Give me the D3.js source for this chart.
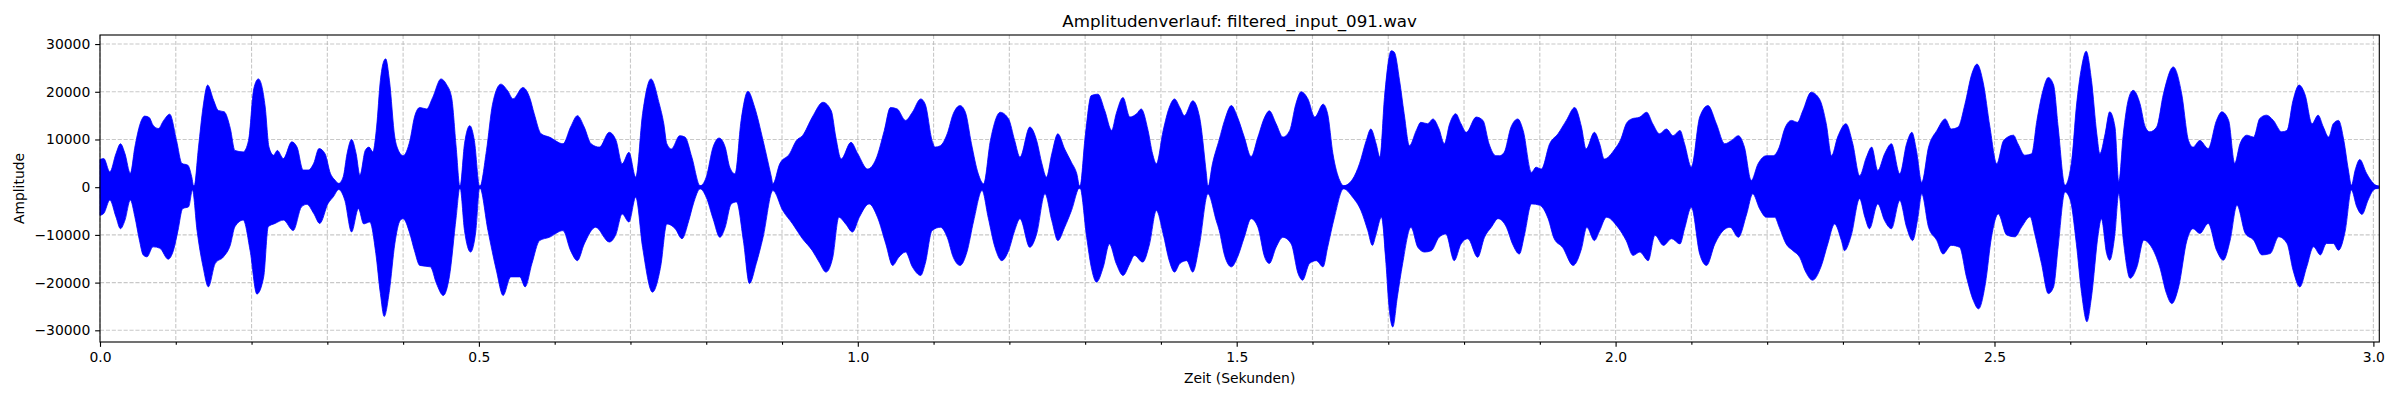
<!DOCTYPE html>
<html>
  <head>
    <meta charset="utf-8" />
    <title>Amplitudenverlauf</title>
    <script src="https://d3js.org/d3.v7.min.js"></script>
    <style>
      body {
        margin: 0;
        background: #ffffff;
        font-family: 'DejaVu Sans', sans-serif;
      }
      .tick text {
        font-family: 'DejaVu Sans', sans-serif;
        font-size: 13.9px;
        fill: #000;
      }
      .tick line {
        stroke: #000;
        stroke-width: 1.11px;
      }
      .grid line {
        stroke: #b0b0b0;
        stroke-opacity: 0.7;
        stroke-width: 1.11px;
        stroke-dasharray: 4.1 1.8;
      }
    </style>
  </head>
  <body>
    <div id="chart"></div>
    <script>
      // Hüllkurve des Signals: [Zeit in s, Amplitude]
      const upperEnvelope = [
        [0, 5800], [0.005, 6000], [0.013, 3200], [0.021, 7000], [0.027, 9100], [0.033, 7000],
        [0.04, 2900], [0.046, 8400], [0.053, 13300], [0.059, 14900], [0.065, 14600], [0.07, 13000],
        [0.077, 12300], [0.084, 14000], [0.092, 15300], [0.101, 9800], [0.108, 5000], [0.116, 4600],
        [0.121, 2200], [0.124, 0], [0.13, 8400], [0.136, 16800], [0.142, 21400], [0.15, 18200],
        [0.156, 16100], [0.164, 15800], [0.172, 12300], [0.178, 7700], [0.189, 7400], [0.196, 9800],
        [0.203, 20700], [0.209, 22700], [0.218, 16800], [0.223, 8400], [0.229, 6700], [0.234, 7700],
        [0.242, 6000], [0.253, 9500], [0.26, 8400], [0.268, 3600], [0.275, 3600], [0.282, 5000],
        [0.289, 8100], [0.297, 7000], [0.304, 2900], [0.31, 1500], [0.315, 800], [0.321, 2200],
        [0.326, 7000], [0.332, 10000], [0.338, 7000], [0.343, 2500], [0.35, 7700], [0.355, 8400],
        [0.36, 7400], [0.365, 12600], [0.37, 22400], [0.374, 26200], [0.377, 26900],
        [0.382, 22300], [0.389, 10500], [0.393, 8000], [0.4, 6600], [0.409, 9800], [0.415, 14700],
        [0.422, 16700], [0.431, 16400], [0.439, 18800], [0.45, 22700], [0.457, 21600], [0.464, 18800],
        [0.47, 8400], [0.475, 0], [0.481, 9100], [0.488, 12900], [0.494, 9800], [0.501, 0],
        [0.51, 7700], [0.518, 17400], [0.529, 21600], [0.538, 20200], [0.545, 18500], [0.558, 20900],
        [0.567, 18800], [0.573, 15400], [0.582, 11200], [0.593, 10500], [0.611, 9100], [0.621, 12600],
        [0.63, 15000], [0.639, 12600], [0.648, 9100], [0.659, 8400], [0.672, 11500], [0.681, 9800],
        [0.689, 4900], [0.698, 7300], [0.707, 2100], [0.716, 15400], [0.727, 22700], [0.738, 17500],
        [0.744, 13300], [0.748, 9100], [0.754, 8000], [0.765, 10800], [0.772, 10500], [0.781, 6300],
        [0.792, 300], [0.8, 2100], [0.809, 8400], [0.817, 10300], [0.825, 8400], [0.831, 4200],
        [0.838, 2800], [0.846, 14000], [0.855, 20100], [0.864, 16700], [0.875, 9800], [0.886, 2100],
        [0.888, 700], [0.897, 4900], [0.91, 7000], [0.919, 9800], [0.927, 10800], [0.94, 14700],
        [0.954, 17800], [0.965, 16000], [0.971, 10500], [0.978, 5900], [0.991, 9400], [1.0, 7000],
        [1.013, 3800], [1.024, 5900], [1.035, 11900], [1.043, 16700], [1.052, 16400], [1.063, 14000],
        [1.072, 15700], [1.083, 18500], [1.089, 17400], [1.098, 9800], [1.102, 8400],
        [1.109, 8700], [1.118, 11200], [1.126, 15400], [1.135, 17100], [1.142, 15700], [1.15, 9100],
        [1.159, 2800], [1.166, 700], [1.175, 9800], [1.188, 15700], [1.199, 14300], [1.207, 9800],
        [1.214, 6300], [1.227, 12600], [1.236, 9800], [1.243, 4900], [1.249, 2100], [1.256, 7000],
        [1.264, 11200], [1.273, 8000], [1.282, 5200], [1.289, 2800], [1.293, 0], [1.3, 10500],
        [1.308, 19200], [1.317, 19500], [1.326, 16000], [1.335, 11900], [1.341, 15400], [1.35, 18800],
        [1.359, 14700], [1.368, 15400], [1.374, 16400], [1.383, 11900], [1.389, 7000], [1.394, 4900],
        [1.403, 11900], [1.411, 16700], [1.418, 18500], [1.425, 16700], [1.431, 15000], [1.442, 18100],
        [1.451, 14700], [1.46, 2800], [1.462, 0], [1.468, 4900],
        [1.477, 10000], [1.484, 14000], [1.493, 17100], [1.501, 14700], [1.51, 10500], [1.519, 6400],
        [1.528, 10500], [1.537, 14700], [1.543, 16000], [1.552, 13300], [1.561, 10500], [1.57, 11900],
        [1.578, 17400], [1.585, 20000], [1.594, 18500], [1.603, 14700], [1.614, 17400], [1.62, 15400],
        [1.627, 7000], [1.636, 1400], [1.641, 300], [1.653, 1700], [1.662, 4900], [1.671, 9800],
        [1.677, 12200], [1.684, 9100], [1.689, 6300], [1.695, 18800], [1.704, 28600], [1.708, 28300],
        [1.715, 22300], [1.721, 15400], [1.728, 8700], [1.737, 11900], [1.743, 13600], [1.752, 13300],
        [1.759, 14300], [1.767, 12200], [1.774, 9100], [1.781, 13300], [1.789, 15400], [1.796, 13300],
        [1.803, 11500], [1.816, 14700], [1.825, 14000], [1.833, 9100], [1.842, 6600],
        [1.847, 6600], [1.853, 7300], [1.862, 12600], [1.871, 14300], [1.878, 11900], [1.889, 3100],
        [1.895, 4200], [1.902, 3800], [1.913, 9100], [1.924, 11200], [1.935, 14000], [1.946, 16700],
        [1.955, 12600], [1.961, 8000], [1.972, 11500], [1.979, 9100], [1.985, 5900], [1.999, 8000],
        [2.007, 10100], [2.014, 13300], [2.021, 14300], [2.032, 14700], [2.041, 15700], [2.049, 13300],
        [2.058, 11200], [2.067, 12200], [2.076, 10800], [2.085, 11900], [2.091, 9100], [2.1, 4200],
        [2.111, 14700], [2.122, 17100], [2.133, 13300], [2.144, 9100], [2.153, 9800], [2.162, 10800],
        [2.17, 8400], [2.179, 1400], [2.188, 4900], [2.199, 6600], [2.208, 6600],
        [2.216, 8400], [2.223, 12200], [2.232, 14000], [2.24, 13600], [2.247, 16000], [2.258, 19900],
        [2.269, 18500], [2.278, 13300], [2.285, 6600], [2.293, 10500], [2.304, 13300], [2.313, 9100],
        [2.322, 2400], [2.331, 6300], [2.338, 8400], [2.346, 3500], [2.355, 7000], [2.364, 9100],
        [2.375, 2800], [2.384, 9100], [2.391, 11500], [2.397, 7700], [2.404, 1000], [2.413, 8400],
        [2.424, 11900], [2.435, 14300], [2.443, 12200], [2.452, 12600], [2.461, 17400], [2.47, 23700],
        [2.477, 25800], [2.485, 22000], [2.494, 12600], [2.503, 4900],
        [2.512, 9800], [2.525, 10900], [2.531, 9100], [2.54, 6700], [2.549, 7000], [2.556, 14000],
        [2.564, 20300], [2.571, 23000], [2.578, 21400], [2.584, 12600], [2.593, 400], [2.602, 5700],
        [2.608, 16800], [2.615, 25200], [2.621, 28500], [2.628, 22400], [2.635, 11200], [2.639, 7000],
        [2.646, 11200], [2.652, 15800], [2.659, 12600], [2.664, 1100], [2.67, 11200], [2.677, 18600],
        [2.683, 20300], [2.692, 17500], [2.699, 12600], [2.705, 11600], [2.714, 12600], [2.723, 19600],
        [2.736, 25200], [2.747, 19600], [2.756, 9800], [2.762, 8400], [2.771, 9800], [2.782, 8100],
        [2.793, 14000], [2.8, 15800], [2.809, 14000], [2.817, 5000], [2.824, 9100], [2.833, 10900],
        [2.842, 10500], [2.85, 14400], [2.859, 15100], [2.868, 14000], [2.879, 11600], [2.886, 11900],
        [2.894, 18200], [2.902, 21400], [2.91, 19300], [2.919, 13300], [2.927, 15100], [2.934, 12600],
        [2.941, 10500], [2.947, 13300], [2.954, 14000], [2.961, 9800], [2.967, 3600], [2.971, 400],
        [2.976, 3600], [2.982, 5800], [2.991, 2900], [3.0, 800], [3.007, 100],
      ];

      const lowerEnvelope = [
        [0, -5900], [0.005, -5500], [0.013, -2700], [0.021, -6200], [0.027, -8700], [0.033, -6900],
        [0.04, -2700], [0.046, -6200], [0.052, -11100], [0.057, -14200], [0.062, -14600], [0.07, -12500],
        [0.079, -12800], [0.09, -15100], [0.097, -13200], [0.103, -9000], [0.109, -4500], [0.117, -4100],
        [0.122, -600], [0.128, -9000], [0.136, -16700], [0.143, -20900], [0.152, -16000], [0.163, -14600],
        [0.172, -12100], [0.178, -8300], [0.189, -6900], [0.198, -13200], [0.207, -22400], [0.216, -18800],
        [0.222, -8300], [0.231, -7600], [0.242, -6900], [0.255, -9100], [0.266, -4100], [0.273, -3600],
        [0.282, -5500], [0.29, -7600], [0.301, -3400], [0.308, -2000], [0.315, -500], [0.323, -2700],
        [0.332, -9400], [0.341, -4500], [0.348, -7700], [0.356, -7300], [0.364, -13900], [0.37, -22300],
        [0.375, -27100],
        [0.382, -21600], [0.389, -11900], [0.396, -7000], [0.4, -6600], [0.409, -9800], [0.415, -13300],
        [0.422, -16400], [0.436, -16700], [0.444, -20200], [0.453, -22700], [0.461, -18800], [0.47, -6300],
        [0.475, 0], [0.481, -9100], [0.489, -13600], [0.496, -9100], [0.501, 0], [0.512, -9100],
        [0.523, -17400], [0.532, -22700], [0.542, -18800], [0.554, -18800], [0.561, -20900], [0.57, -16000],
        [0.58, -11200], [0.593, -10500], [0.611, -9100], [0.621, -13300], [0.63, -15400], [0.639, -11900],
        [0.654, -8400], [0.672, -11500], [0.681, -9800], [0.689, -5600], [0.698, -7300], [0.707, -2100],
        [0.716, -12600], [0.729, -22000], [0.74, -16500],
        [0.748, -7700], [0.759, -8700], [0.768, -10800], [0.777, -7000], [0.783, -3500], [0.792, -350],
        [0.8, -2100], [0.809, -6600], [0.818, -10500], [0.825, -8400], [0.833, -3500], [0.84, -3100],
        [0.849, -11200], [0.857, -20200], [0.866, -16000], [0.875, -10500], [0.888, -700], [0.901, -4900],
        [0.914, -7700], [0.927, -10800], [0.94, -13300], [0.949, -15700], [0.958, -17800], [0.967, -14700],
        [0.975, -6300], [0.984, -7700], [0.993, -9400], [1.002, -6300], [1.015, -3500], [1.026, -6300],
        [1.037, -11900], [1.046, -16400], [1.054, -14700], [1.063, -13600], [1.072, -16700], [1.083, -18500],
        [1.089, -16000], [1.098, -9100],
        [1.109, -8400], [1.118, -10500], [1.126, -14700], [1.135, -16400], [1.144, -13600], [1.153, -7000],
        [1.164, -700], [1.172, -6300], [1.181, -12600], [1.19, -15400], [1.199, -13300], [1.207, -9100],
        [1.214, -6600], [1.227, -12600], [1.236, -9800], [1.247, -1400], [1.256, -7000], [1.264, -11200],
        [1.273, -8400], [1.282, -4900], [1.293, 0], [1.302, -10500], [1.308, -16700], [1.315, -19900],
        [1.324, -16700], [1.332, -11900], [1.341, -16000], [1.35, -18500], [1.359, -16000], [1.365, -14300],
        [1.376, -15700], [1.385, -11900], [1.394, -4900], [1.403, -9800], [1.411, -15400], [1.418, -17800],
        [1.425, -16000], [1.434, -15400], [1.442, -17800], [1.451, -11900], [1.462, -1400], [1.473, -7000],
        [1.477, -9100], [1.484, -14300], [1.493, -16700], [1.501, -14700], [1.51, -10500], [1.519, -6600],
        [1.528, -8400], [1.537, -14700], [1.543, -16000], [1.552, -12600], [1.561, -10500], [1.572, -11900],
        [1.581, -18100], [1.587, -19500], [1.596, -16000], [1.605, -15400], [1.614, -16700], [1.62, -12600],
        [1.629, -6300], [1.641, -350], [1.653, -2100], [1.664, -4900], [1.673, -9100], [1.679, -12200],
        [1.684, -9800], [1.691, -6300], [1.697, -16000], [1.701, -25100], [1.706, -29300], [1.712, -23000],
        [1.719, -16000], [1.73, -8400], [1.739, -12600], [1.748, -13600], [1.757, -13300], [1.767, -10500],
        [1.776, -9800], [1.787, -15400], [1.796, -11900], [1.805, -10800], [1.818, -14700], [1.827, -10500],
        [1.836, -8400], [1.845, -6600],
        [1.856, -8400], [1.864, -11900], [1.873, -14000], [1.88, -9800], [1.889, -3500], [1.9, -3800],
        [1.911, -6600], [1.919, -10800], [1.93, -12600], [1.944, -16400], [1.955, -12900], [1.962, -8400],
        [1.972, -11200], [1.979, -9100], [1.988, -6300], [2.003, -8400], [2.014, -11200], [2.023, -14300],
        [2.032, -13600], [2.043, -15400], [2.052, -10100], [2.063, -12200], [2.074, -10800], [2.085, -11900],
        [2.091, -8700], [2.1, -4200], [2.111, -14000], [2.12, -16400], [2.131, -11900], [2.142, -9100],
        [2.151, -8400], [2.162, -10500], [2.173, -5600], [2.181, -1400], [2.19, -4500], [2.199, -6300],
        [2.21, -6300],
        [2.216, -8400], [2.225, -11900], [2.234, -13300], [2.243, -14700], [2.251, -17800], [2.26, -19500],
        [2.271, -16700], [2.28, -11900], [2.289, -7700], [2.298, -11200], [2.302, -13300], [2.311, -10100],
        [2.322, -2400], [2.329, -6300], [2.335, -8700], [2.346, -3500], [2.355, -7000], [2.364, -8700],
        [2.375, -2800], [2.384, -8400], [2.392, -11200], [2.399, -6300], [2.404, -1400], [2.413, -8400],
        [2.424, -11200], [2.432, -14000], [2.443, -12200], [2.454, -12600], [2.463, -18800], [2.472, -23700],
        [2.479, -25500], [2.488, -20200], [2.496, -10500], [2.505, -5600],
        [2.516, -10000], [2.527, -10400], [2.536, -8300], [2.547, -6200], [2.553, -9700], [2.562, -16000],
        [2.571, -22300], [2.578, -20900], [2.584, -12500], [2.593, -1000], [2.6, -2700], [2.608, -11800],
        [2.615, -22300], [2.622, -28200], [2.628, -23000], [2.637, -9700], [2.641, -6600], [2.648, -13900],
        [2.652, -15300], [2.659, -9700], [2.664, -1300], [2.67, -11100], [2.679, -19100], [2.688, -16700],
        [2.697, -11100], [2.707, -12500], [2.718, -16700], [2.727, -22300], [2.734, -24400], [2.743, -20900],
        [2.754, -11100], [2.762, -8700], [2.771, -9700], [2.782, -7600], [2.793, -13200], [2.802, -15300],
        [2.811, -11100], [2.82, -3800], [2.831, -9700], [2.842, -11100], [2.853, -14200], [2.864, -13900],
        [2.875, -10400], [2.886, -11800], [2.894, -17400], [2.903, -20900], [2.912, -16700], [2.921, -12500],
        [2.93, -14200], [2.938, -11800], [2.947, -11800], [2.954, -13200], [2.963, -9000], [2.971, -600],
        [2.978, -4100], [2.985, -5700], [2.993, -2700], [3.0, -600], [3.007, -100],
      ];

      // Achsenbeschriftung
      const xMajorTicks = [0, 0.5, 1.0, 1.5, 2.0, 2.5, 3.0];
      const xMinorTicks = [
        0.1, 0.2, 0.3, 0.4, 0.6, 0.7, 0.8, 0.9, 1.1, 1.2, 1.3, 1.4, 1.6, 1.7, 1.8, 1.9,
        2.1, 2.2, 2.3, 2.4, 2.6, 2.7, 2.8, 2.9,
      ];
      const yTicks = [-30000, -20000, -10000, 0, 10000, 20000, 30000];
      const xDomain = [0, 3.0078];
      const yDomain = [-32450, 31900];

      const titleText = 'Amplitudenverlauf: filtered_input_091.wav';
      const xLabelText = 'Zeit (Sekunden)';
      const yLabelText = 'Amplitude';

      // Abmessungen
      const width = 2400;
      const height = 400;
      const margin = { top: 35, right: 20.7, bottom: 58, left: 100 };
      const plotW = width - margin.left - margin.right;
      const plotH = height - margin.top - margin.bottom;

      const svg = d3
        .select('#chart')
        .append('svg')
        .attr('width', width)
        .attr('height', height)
        .style('display', 'block');

      svg.append('rect').attr('width', width).attr('height', height).attr('fill', '#fff');

      const x = d3.scaleLinear().domain(xDomain).range([margin.left, margin.left + plotW]);
      const y = d3.scaleLinear().domain(yDomain).range([margin.top + plotH, margin.top]);

      // Gitternetz (unter dem Signal)
      const grid = svg.append('g').attr('class', 'grid');
      grid
        .selectAll('line.gx')
        .data(xMajorTicks.concat(xMinorTicks))
        .join('line')
        .attr('class', 'gx')
        .attr('x1', (d) => x(d))
        .attr('x2', (d) => x(d))
        .attr('y1', margin.top)
        .attr('y2', margin.top + plotH);
      grid
        .selectAll('line.gy')
        .data(yTicks)
        .join('line')
        .attr('class', 'gy')
        .attr('x1', margin.left)
        .attr('x2', margin.left + plotW)
        .attr('y1', (d) => y(d))
        .attr('y2', (d) => y(d));

      // Signal: obere und untere Hüllkurve jeweils bis knapp über die Nulllinie gefüllt
      const overlap = 300;
      const upperArea = d3
        .area()
        .curve(d3.curveMonotoneX)
        .x((d) => x(d[0]))
        .y0(y(-overlap))
        .y1((d) => y(d[1]));
      const lowerArea = d3
        .area()
        .curve(d3.curveMonotoneX)
        .x((d) => x(d[0]))
        .y0(y(overlap))
        .y1((d) => y(d[1]));

      const wave = svg.append('g').attr('fill', '#0000ff').attr('stroke', '#0000ff').attr('stroke-width', 0.8);
      wave.append('path').attr('d', upperArea(upperEnvelope));
      wave.append('path').attr('d', lowerArea(lowerEnvelope));

      // Achsen
      const tickLen = 4.86;
      const minorLen = 2.78;

      const xAxis = svg
        .append('g')
        .attr('transform', `translate(0,${margin.top + plotH})`)
        .call(
          d3
            .axisBottom(x)
            .tickValues(xMajorTicks)
            .tickFormat(d3.format('.1f'))
            .tickSize(tickLen)
            .tickPadding(4.86),
        );
      xAxis.select('.domain').remove();

      const xMinor = svg
        .append('g')
        .attr('transform', `translate(0,${margin.top + plotH})`)
        .call(d3.axisBottom(x).tickValues(xMinorTicks).tickFormat('').tickSize(minorLen));
      xMinor.select('.domain').remove();

      const yAxis = svg
        .append('g')
        .attr('transform', `translate(${margin.left},0)`)
        .call(
          d3
            .axisLeft(y)
            .tickValues(yTicks)
            .tickFormat(d3.format('d'))
            .tickSize(tickLen)
            .tickPadding(4.86),
        );
      yAxis.select('.domain').remove();

      // Rahmen
      svg
        .append('rect')
        .attr('x', margin.left)
        .attr('y', margin.top)
        .attr('width', plotW)
        .attr('height', plotH)
        .attr('fill', 'none')
        .attr('stroke', '#000')
        .attr('stroke-width', 1.11);

      // Texte
      svg
        .append('text')
        .attr('x', margin.left + plotW / 2)
        .attr('y', 26.7)
        .attr('text-anchor', 'middle')
        .style('font-family', 'DejaVu Sans, sans-serif')
        .style('font-size', '16.7px')
        .text(titleText);

      svg
        .append('text')
        .attr('x', margin.left + plotW / 2)
        .attr('y', 382.5)
        .attr('text-anchor', 'middle')
        .style('font-family', 'DejaVu Sans, sans-serif')
        .style('font-size', '13.9px')
        .text(xLabelText);

      svg
        .append('text')
        .attr('transform', `translate(23.5,${margin.top + plotH / 2}) rotate(-90)`)
        .attr('text-anchor', 'middle')
        .style('font-family', 'DejaVu Sans, sans-serif')
        .style('font-size', '13.9px')
        .text(yLabelText);
    </script>
  </body>
</html>
